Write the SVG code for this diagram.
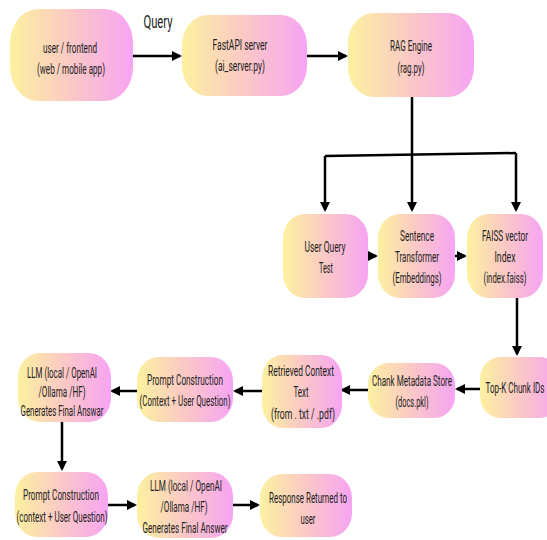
<svg xmlns="http://www.w3.org/2000/svg" width="547" height="540" viewBox="0 0 547 540">
<defs>
<linearGradient id="g" x1="0" y1="0" x2="1" y2="0">
<stop offset="0" stop-color="#fcf1a0"/>
<stop offset="0.5" stop-color="#fbc8c6"/>
<stop offset="1" stop-color="#f7a4f3"/>
</linearGradient>
<marker id="ah" markerWidth="4" markerHeight="4" refX="3.2" refY="2" orient="auto" markerUnits="strokeWidth">
<path d="M0,0 L4,2 L0,4 z" fill="#000"/>
</marker>
</defs>
<style>
.n{fill:url(#g);}
.t{font-family:"Roboto","Liberation Sans",sans-serif;font-size:14px;fill:#222;text-anchor:middle;}
.c{stroke:#000;stroke-width:2.5;fill:none;}
.a{marker-end:url(#ah);}
</style>
<rect width="547" height="540" fill="#fff"/>
<g id="connectors">
<path class="c a" d="M133,56 H180"/>
<path class="c a" d="M307,56 H346"/>
<path class="c" d="M412,97 V155"/>
<path class="c" d="M325,156 L516,153"/>
<path class="c a" d="M325,156 V210"/>
<path class="c a" d="M412,155 V210"/>
<path class="c a" d="M516,153 V210"/>
<path class="c a" d="M368,256 H376"/>
<path class="c a" d="M455,256 H465"/>
<path class="c a" d="M517,298 V354"/>
<path class="c a" d="M480,389 H457"/>
<path class="c a" d="M368,390 H342"/>
<path class="c a" d="M262,391 H235"/>
<path class="c a" d="M137,391 H112"/>
<path class="c a" d="M62,422 V469"/>
<path class="c a" d="M108,505 H135"/>
<path class="c a" d="M233,505 H258"/>
</g>
<text class="t" x="158" y="28" style="font-size:18px" textLength="29" lengthAdjust="spacingAndGlyphs">Query</text>
<g id="user-frontend">
<rect class="n" x="10" y="9" width="123" height="92" rx="28" ry="34"/>
<text class="t" x="70" y="53" textLength="54" lengthAdjust="spacingAndGlyphs">user / frontend</text>
<text class="t" x="71" y="74" textLength="68" lengthAdjust="spacingAndGlyphs">(web / mobile app)</text>
</g>
<g id="fastapi">
<rect class="n" x="182" y="15" width="125" height="81" rx="26" ry="30"/>
<text class="t" x="240" y="50" textLength="55" lengthAdjust="spacingAndGlyphs">FastAPI server</text>
<text class="t" x="240" y="71" textLength="50" lengthAdjust="spacingAndGlyphs">(ai_server.py)</text>
</g>
<g id="rag-engine">
<rect class="n" x="348" y="13" width="126" height="84" rx="26" ry="30"/>
<text class="t" x="411" y="51" textLength="42" lengthAdjust="spacingAndGlyphs">RAG Engine</text>
<text class="t" x="411" y="73" textLength="27" lengthAdjust="spacingAndGlyphs">(rag.py)</text>
</g>
<g id="user-query">
<rect class="n" x="283" y="214" width="85" height="84" rx="22" ry="24"/>
<text class="t" x="325" y="252" textLength="41" lengthAdjust="spacingAndGlyphs">User Query</text>
<text class="t" x="326" y="273" textLength="14" lengthAdjust="spacingAndGlyphs">Test</text>
</g>
<g id="sentence-transformer">
<rect class="n" x="378" y="214" width="77" height="84" rx="22" ry="24"/>
<text class="t" x="417" y="241" textLength="34" lengthAdjust="spacingAndGlyphs">Sentence</text>
<text class="t" x="417" y="262" textLength="44" lengthAdjust="spacingAndGlyphs">Transformer</text>
<text class="t" x="417" y="283" textLength="49" lengthAdjust="spacingAndGlyphs">(Embeddings)</text>
</g>
<g id="faiss">
<rect class="n" x="467" y="214" width="76" height="84" rx="22" ry="24"/>
<text class="t" x="505" y="241" textLength="46" lengthAdjust="spacingAndGlyphs">FAISS vector</text>
<text class="t" x="505" y="262" textLength="21" lengthAdjust="spacingAndGlyphs">Index</text>
<text class="t" x="505" y="283" textLength="43" lengthAdjust="spacingAndGlyphs">(index.faiss)</text>
</g>
<g id="topk">
<rect class="n" x="480" y="357" width="80" height="61" rx="20" ry="22"/>
<text class="t" x="515" y="393" textLength="59" lengthAdjust="spacingAndGlyphs">Top-K Chunk IDs</text>
</g>
<g id="metadata">
<rect class="n" x="368" y="363" width="87" height="55" rx="20" ry="22"/>
<text class="t" x="412" y="386" textLength="80" lengthAdjust="spacingAndGlyphs">Chank Metadata Store</text>
<text class="t" x="412" y="407" textLength="33" lengthAdjust="spacingAndGlyphs">(docs.pkl)</text>
</g>
<g id="retrieved">
<rect class="n" x="262" y="355" width="80" height="73" rx="20" ry="24"/>
<text class="t" x="301" y="376" textLength="66" lengthAdjust="spacingAndGlyphs">Retrieved Context</text>
<text class="t" x="301" y="397" textLength="15" lengthAdjust="spacingAndGlyphs">Text</text>
<text class="t" x="303" y="419" textLength="64" lengthAdjust="spacingAndGlyphs">(from . txt / .pdf)</text>
</g>
<g id="prompt1">
<rect class="n" x="137" y="357" width="96" height="65" rx="22" ry="24"/>
<text class="t" x="185" y="385" textLength="76" lengthAdjust="spacingAndGlyphs">Prompt Construction</text>
<text class="t" x="185" y="406" textLength="91" lengthAdjust="spacingAndGlyphs">(Context + User Question)</text>
</g>
<g id="llm1">
<rect class="n" x="18" y="353" width="93" height="69" rx="22" ry="24"/>
<text class="t" x="62" y="378" textLength="70" lengthAdjust="spacingAndGlyphs">LLM (local / OpenAI</text>
<text class="t" x="62" y="397" textLength="47" lengthAdjust="spacingAndGlyphs">/Ollama /HF)</text>
<text class="t" x="62" y="416" textLength="83" lengthAdjust="spacingAndGlyphs">Generates Final Answar</text>
</g>
<g id="prompt2">
<rect class="n" x="15" y="472" width="93" height="65" rx="22" ry="24"/>
<text class="t" x="61" y="500" textLength="76" lengthAdjust="spacingAndGlyphs">Prompt Construction</text>
<text class="t" x="62" y="522" textLength="91" lengthAdjust="spacingAndGlyphs">(context + User Question)</text>
</g>
<g id="llm2">
<rect class="n" x="137" y="472" width="96" height="66" rx="22" ry="24"/>
<text class="t" x="186" y="491" textLength="72" lengthAdjust="spacingAndGlyphs">LLM (local / OpenAI</text>
<text class="t" x="184" y="512" textLength="47" lengthAdjust="spacingAndGlyphs">/Ollama /HF)</text>
<text class="t" x="185" y="533" textLength="85" lengthAdjust="spacingAndGlyphs">Generates Final Answer</text>
</g>
<g id="response">
<rect class="n" x="260" y="474" width="92" height="63" rx="22" ry="24"/>
<text class="t" x="308" y="503" textLength="78" lengthAdjust="spacingAndGlyphs">Response Returned to</text>
<text class="t" x="308" y="524" textLength="15" lengthAdjust="spacingAndGlyphs">user</text>
</g>
</svg>
